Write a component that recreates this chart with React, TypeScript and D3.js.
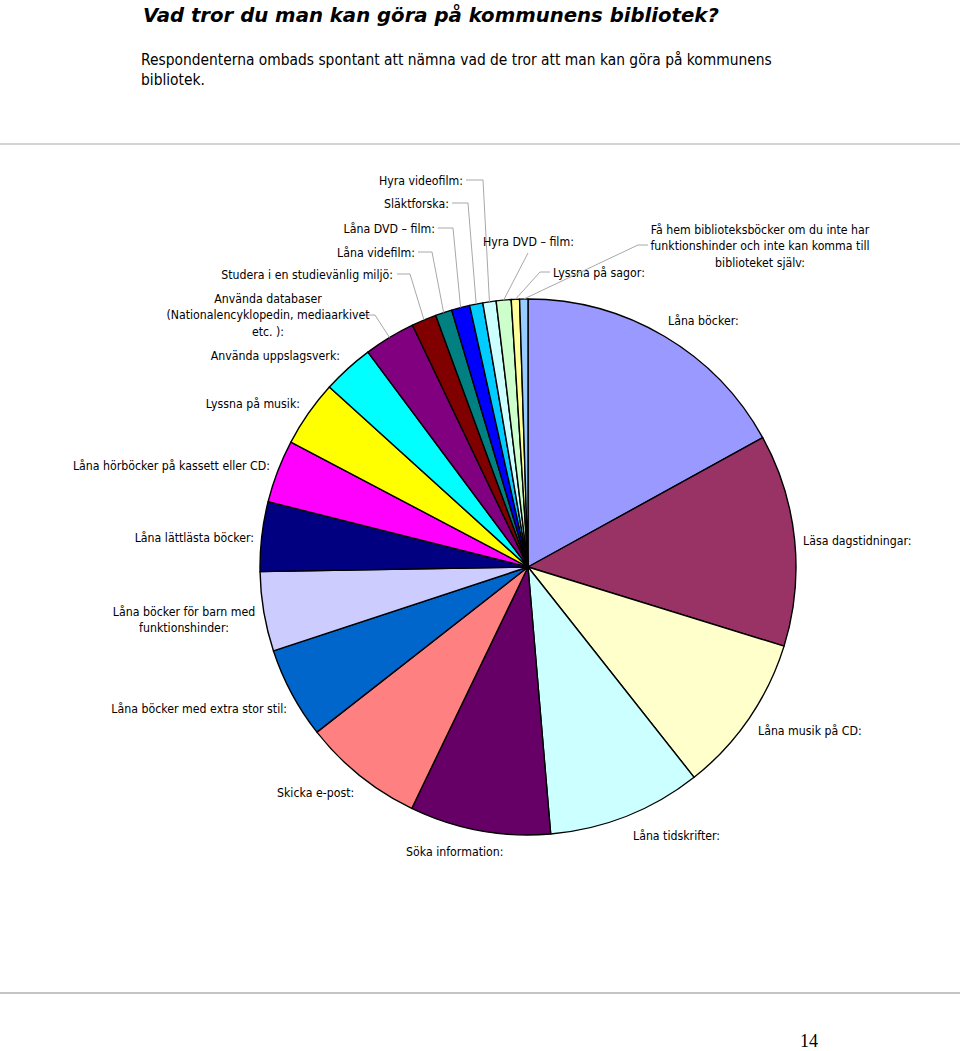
import React from "react";
import * as d3 from "d3";

const categories = [
  "Låna böcker:",
  "Läsa dagstidningar:",
  "Låna musik på CD:",
  "Låna tidskrifter:",
  "Söka information:",
  "Skicka e-post:",
  "Låna böcker med extra stor stil:",
  "Låna böcker för barn med funktionshinder:",
  "Låna lättlästa böcker:",
  "Låna hörböcker på kassett eller CD:",
  "Lyssna på musik:",
  "Använda uppslagsverk:",
  "Använda databaser (Nationalencyklopedin, mediaarkivet etc.):",
  "Studera i en studievänlig miljö:",
  "Låna videfilm:",
  "Låna DVD – film:",
  "Släktforska:",
  "Hyra videofilm:",
  "Hyra DVD – film:",
  "Lyssna på sagor:",
  "Få hem biblioteksböcker om du inte har funktionshinder och inte kan komma till biblioteket själv:",
];

const values = [
  17.0, 12.8, 9.6, 9.3, 8.5, 7.3, 5.5, 4.8, 4.2, 3.8, 4.0, 3.1, 3.1, 1.5, 1.0,
  1.1, 0.8, 0.8, 0.9, 0.5, 0.5,
];

const colors = [
  "#9999FF", "#993366", "#FFFFCC", "#CCFFFF", "#660066", "#FF8080", "#0066CC",
  "#CCCCFF", "#000080", "#FF00FF", "#FFFF00", "#00FFFF", "#800080", "#800000",
  "#008080", "#0000FF", "#00CCFF", "#CCFFFF", "#CCFFCC", "#FFFF99", "#99CCFF",
];

type LabelCfg = {
  x: number;
  y: number;
  anchor: "start" | "middle" | "end";
  lines: string[];
  leader?: [number, number][];
};

// label layout (positions only; text comes from categories)
const labelLayout: LabelCfg[] = [
  { x: 668, y: 320, anchor: "start", lines: [] },
  { x: 803, y: 540, anchor: "start", lines: [] },
  { x: 758, y: 730, anchor: "start", lines: [] },
  { x: 633, y: 835, anchor: "start", lines: [] },
  { x: 406, y: 851, anchor: "start", lines: [] },
  { x: 277, y: 792, anchor: "start", lines: [] },
  { x: 287, y: 708, anchor: "end", lines: [] },
  { x: 184, y: 611, anchor: "middle", lines: ["Låna böcker för barn med", "funktionshinder:"] },
  { x: 254, y: 537, anchor: "end", lines: [] },
  { x: 270, y: 465, anchor: "end", lines: [] },
  { x: 300, y: 403, anchor: "end", lines: [] },
  { x: 340, y: 355, anchor: "end", lines: [] },
  {
    x: 268, y: 298, anchor: "middle",
    lines: ["Använda databaser", "(Nationalencyklopedin, mediaarkivet", "etc. ):"],
    leader: [[360, 315], [375, 315]],
  },
  { x: 393, y: 274, anchor: "end", lines: [], leader: [[397, 274], [410, 274]] },
  { x: 415, y: 252, anchor: "end", lines: [], leader: [[418, 252], [432, 252]] },
  { x: 435, y: 228, anchor: "end", lines: [], leader: [[438, 228], [453, 228]] },
  { x: 449, y: 203, anchor: "end", lines: [], leader: [[452, 203], [468, 203]] },
  { x: 463, y: 180, anchor: "end", lines: [], leader: [[466, 180], [483, 180]] },
  { x: 483, y: 241, anchor: "start", lines: [], leader: [[528, 253]] },
  { x: 553, y: 272, anchor: "start", lines: [], leader: [[550, 272], [540, 272]] },
  {
    x: 760, y: 229, anchor: "middle",
    lines: ["Få hem biblioteksböcker om du inte har", "funktionshinder och inte kan komma till", "biblioteket själv:"],
    leader: [[648, 245], [638, 245]],
  },
];

const cx = 528;
const cy = 567;
const R = 268;
const sansFont = "'DejaVu Sans', Verdana, sans-serif";

function NarrowText(props: {
  x: number;
  y: number;
  size: number;
  sx: number;
  anchor?: "start" | "middle" | "end";
  children: React.ReactNode;
}) {
  const { x, y, size, sx, anchor = "start", children } = props;
  return (
    <g transform={`translate(${x},${y}) scale(${sx},1)`}>
      <text x={0} y={0} textAnchor={anchor} fontFamily={sansFont} fontSize={size} fill="#000">
        {children}
      </text>
    </g>
  );
}

export default function App() {
  const pie = d3
    .pie<number>()
    .sort(null)
    .value((d) => d)
    .startAngle(0)
    .endAngle(2 * Math.PI);
  const arcs = pie(values);
  const arcGen = d3.arc<d3.PieArcDatum<number>>().innerRadius(0).outerRadius(R);

  return (
    <svg
      width={960}
      height={1051}
      style={{ position: "absolute", left: 0, top: 0, background: "#fff" }}
    >
      <text
        x={143}
        y={22}
        fontFamily={sansFont}
        fontWeight="bold"
        fontStyle="italic"
        fontSize={19.7}
        fill="#000"
      >
        Vad tror du man kan göra på kommunens bibliotek?
      </text>
      <NarrowText x={141} y={65} size={15.5} sx={0.893}>
        Respondenterna ombads spontant att nämna vad de tror att man kan göra på kommunens
      </NarrowText>
      <NarrowText x={141} y={85} size={15.5} sx={0.893}>
        bibliotek.
      </NarrowText>

      <line x1={0} x2={960} y1={144} y2={144} stroke="#d4d4d4" strokeWidth={2} />
      <line x1={0} x2={960} y1={993} y2={993} stroke="#c4c4c4" strokeWidth={2} />

      <g transform={`translate(${cx},${cy})`}>
        {arcs.map((a, i) => (
          <path
            key={i}
            d={arcGen(a) || ""}
            fill={colors[i]}
            stroke="#000"
            strokeWidth={1.4}
            strokeLinejoin="round"
          />
        ))}
      </g>

      {labelLayout.map((cfg, i) => {
        const a = arcs[i];
        const mid = (a.startAngle + a.endAngle) / 2;
        const ex = cx + R * Math.sin(mid);
        const ey = cy - R * Math.cos(mid);
        const lines = cfg.lines.length ? cfg.lines : [categories[i]];
        const pts = cfg.leader ? [...cfg.leader, [ex, ey] as [number, number]] : null;
        return (
          <g key={i}>
            {pts && (
              <polyline
                points={pts.map((p) => p.join(",")).join(" ")}
                fill="none"
                stroke="#a8a8a8"
                strokeWidth={1}
              />
            )}
            {lines.map((ln, j) => (
              <NarrowText
                key={j}
                x={cfg.x}
                y={cfg.y + j * 16.8 + 4.5}
                anchor={cfg.anchor}
                size={12.6}
                sx={0.875}
              >
                {ln}
              </NarrowText>
            ))}
          </g>
        );
      })}

      <text x={800} y={1047} fontFamily="'Liberation Serif', 'Times New Roman', serif" fontSize={18} fill="#000">
        14
      </text>
    </svg>
  );
}
